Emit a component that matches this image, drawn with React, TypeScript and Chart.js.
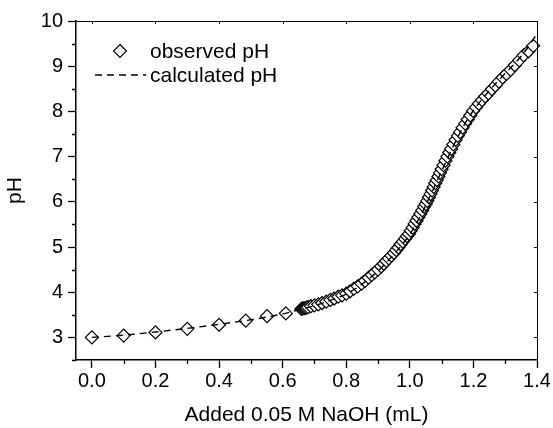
import React, { useEffect, useRef } from 'react';
import { Chart, registerables } from 'chart.js';

Chart.register(...registerables);

// ---- data ----
const obsX = [
  0.0, 0.1, 0.2, 0.3, 0.4, 0.484, 0.551, 0.61,
  0.659, 0.663, 0.667, 0.671, 0.675, 0.68, 0.689, 0.7, 0.712, 0.724, 0.737, 0.75,
  0.762, 0.775, 0.787, 0.8, 0.812, 0.824, 0.836, 0.848, 0.859, 0.87,
  0.88, 0.89, 0.9, 0.91, 0.918, 0.926, 0.934, 0.942, 0.95, 0.957,
  0.964, 0.971, 0.978, 0.985, 0.991, 0.997, 1.003, 1.009, 1.015, 1.021,
  1.027, 1.033, 1.039, 1.045, 1.05, 1.055, 1.06, 1.065, 1.07, 1.075,
  1.08, 1.085, 1.09, 1.095, 1.1, 1.106, 1.112, 1.118, 1.124, 1.13,
  1.137, 1.144, 1.151, 1.158, 1.166, 1.174, 1.182, 1.19, 1.199, 1.208,
  1.217, 1.227, 1.237, 1.247, 1.258, 1.269, 1.28, 1.292, 1.304, 1.317,
  1.33, 1.344, 1.358, 1.373, 1.388,
];
const obsPH = [
  3.0, 3.04, 3.11, 3.19, 3.28, 3.37, 3.47, 3.53,
  3.63, 3.64, 3.645, 3.65, 3.66, 3.67, 3.69, 3.71, 3.73, 3.76, 3.79, 3.83,
  3.86, 3.9, 3.93, 3.97, 4.02, 4.08, 4.13, 4.19, 4.25, 4.32,
  4.38, 4.44, 4.5, 4.57, 4.63, 4.69, 4.75, 4.81, 4.87, 4.93,
  4.99, 5.06, 5.12, 5.18, 5.24, 5.29, 5.36, 5.43, 5.51, 5.58,
  5.66, 5.73, 5.81, 5.89, 5.95, 6.02, 6.1, 6.17, 6.25, 6.33,
  6.41, 6.48, 6.56, 6.64, 6.72, 6.81, 6.91, 7.0, 7.09, 7.17,
  7.27, 7.37, 7.46, 7.54, 7.64, 7.73, 7.82, 7.91, 8.01, 8.09,
  8.17, 8.25, 8.33, 8.4, 8.49, 8.57, 8.66, 8.75, 8.83, 8.92,
  9.02, 9.13, 9.24, 9.33, 9.45,
];
const calcX = [
  0, 0.1, 0.2, 0.3, 0.4, 0.5, 0.6, 0.65, 0.7, 0.75, 0.8, 0.85, 0.9, 0.95,
  1.0, 1.025, 1.05, 1.075, 1.1, 1.125, 1.15, 1.175, 1.2, 1.25, 1.3, 1.35, 1.375, 1.4,
];
const calcPH = [
  3.0, 3.05, 3.12, 3.2, 3.29, 3.39, 3.52, 3.61, 3.7, 3.82, 3.96, 4.18, 4.47, 4.84,
  5.28, 5.58, 5.92, 6.3, 6.68, 7.06, 7.42, 7.75, 8.02, 8.46, 8.84, 9.22, 9.45, 9.72,
];
const xTicks = [0, 0.2, 0.4, 0.6, 0.8, 1.0, 1.2, 1.4];
const xMinorTicks = [0.1, 0.3, 0.5, 0.7, 0.9, 1.1, 1.3];
const yTicks = [3, 4, 5, 6, 7, 8, 9, 10];
const yMinorTicks = [2.5, 3.5, 4.5, 5.5, 6.5, 7.5, 8.5, 9.5];
const seriesLabels = ['observed pH', 'calculated pH'];
const xTitle = 'Added 0.05 M NaOH (mL)';
const yTitle = 'pH';

const FONT = "'Liberation Sans', Arial, Helvetica, sans-serif";

export default function App() {
  const ref = useRef<HTMLCanvasElement>(null);

  useEffect(() => {
    if (!ref.current) return;

    const decor = {
      id: 'decor',
      afterDraw(chart: any) {
        const { ctx, chartArea, scales } = chart;
        const { left, right, top, bottom } = chartArea;
        const xs = scales.x;
        const ys = scales.y;
        ctx.save();
        ctx.strokeStyle = '#000';
        ctx.lineWidth = 1.3;
        ctx.beginPath();
        xMinorTicks.forEach((v) => {
          const px = Math.round(xs.getPixelForValue(v)) + 0.5;
          ctx.moveTo(px, bottom);
          ctx.lineTo(px, bottom + 4);
        });
        yMinorTicks.forEach((v) => {
          const py = Math.round(ys.getPixelForValue(v)) + 0.5;
          ctx.moveTo(left - 4, py);
          ctx.lineTo(left, py);
        });
        ctx.stroke();
        // top and right frame
        ctx.lineWidth = 1;
        ctx.beginPath();
        ctx.moveTo(left, top + 0.5);
        ctx.lineTo(right, top + 0.5);
        ctx.moveTo(right + 0.5, top);
        ctx.lineTo(right + 0.5, bottom);
        // inward mirrored ticks
        xTicks.forEach((v) => {
          const px = Math.round(xs.getPixelForValue(v)) + 0.5;
          ctx.moveTo(px, top);
          ctx.lineTo(px, top + 3);
        });
        yTicks.forEach((v) => {
          const py = Math.round(ys.getPixelForValue(v)) + 0.5;
          ctx.moveTo(right, py);
          ctx.lineTo(right - 3, py);
        });
        ctx.stroke();

        // legend
        const lx = left + 44;
        const ly1 = top + 30;
        const ly2 = top + 54;
        ctx.fillStyle = '#fff';
        ctx.lineWidth = 1.2;
        const r = 6.5;
        ctx.beginPath();
        ctx.moveTo(lx, ly1 - r);
        ctx.lineTo(lx + r, ly1);
        ctx.lineTo(lx, ly1 + r);
        ctx.lineTo(lx - r, ly1);
        ctx.closePath();
        ctx.fill();
        ctx.stroke();
        ctx.setLineDash([7, 5]);
        ctx.lineWidth = 1.4;
        ctx.beginPath();
        ctx.moveTo(left + 19, ly2);
        ctx.lineTo(left + 70, ly2);
        ctx.stroke();
        ctx.setLineDash([]);
        ctx.fillStyle = '#000';
        ctx.font = `21px ${FONT}`;
        ctx.textAlign = 'left';
        ctx.textBaseline = 'middle';
        ctx.fillText(seriesLabels[0], left + 74, ly1 + 1);
        ctx.fillText(seriesLabels[1], left + 74, ly2 + 1);
        ctx.restore();
      },
    };

    const chart = new Chart(ref.current, {
      type: 'scatter',
      data: {
        datasets: [
          {
            label: seriesLabels[1],
            data: calcX.map((x, i) => ({ x, y: calcPH[i] })),
            showLine: true,
            borderColor: '#000',
            borderWidth: 1.4,
            borderDash: [7, 5],
            pointRadius: 0,
            fill: false,
            cubicInterpolationMode: 'monotone',
            order: 0,
          },
          {
            label: seriesLabels[0],
            data: obsX.map((x, i) => ({ x, y: obsPH[i] })),
            showLine: false,
            pointStyle: 'rectRot',
            pointRadius: 6.5,
            pointBorderWidth: 1.2,
            borderColor: '#000',
            backgroundColor: '#fff',
            clip: false,
            order: 1,
          },
        ],
      } as any,
      options: {
        responsive: false,
        animation: false,
        layout: { padding: { top: 21, right: 16, bottom: 0, left: 0 } },
        plugins: { legend: { display: false }, tooltip: { enabled: false } },
        scales: {
          x: {
            type: 'linear',
            min: -0.05,
            max: 1.4,
            afterBuildTicks: (s: any) => {
              s.ticks = xTicks.map((v) => ({ value: v }));
            },
            afterFit: (s: any) => {
              s.height = 68;
            },
            ticks: {
              callback: (v: any) => Number(v).toFixed(1),
              color: '#000',
              font: { family: FONT, size: 20 },
              padding: 1,
              maxRotation: 0,
              autoSkip: false,
            },
            grid: {
              display: true,
              drawOnChartArea: false,
              drawTicks: true,
              tickLength: 8,
              tickColor: '#000',
              tickWidth: 1.3,
            },
            border: { display: true, color: '#000', width: 1.5 },
            title: {
              display: true,
              text: xTitle,
              color: '#000',
              font: { family: FONT, size: 21 },
              padding: { top: 0, bottom: 0 },
            },
          },
          y: {
            type: 'linear',
            min: 2.5,
            max: 10,
            afterBuildTicks: (s: any) => {
              s.ticks = yTicks.map((v) => ({ value: v }));
            },
            afterFit: (s: any) => {
              s.width = 76;
            },
            ticks: {
              callback: (v: any) => String(v),
              color: '#000',
              font: { family: FONT, size: 20 },
              padding: 5,
              autoSkip: false,
            },
            grid: {
              display: true,
              drawOnChartArea: false,
              drawTicks: true,
              tickLength: 8,
              tickColor: '#000',
              tickWidth: 1.3,
            },
            border: { display: true, color: '#000', width: 1.5 },
            title: {
              display: true,
              text: yTitle,
              color: '#000',
              font: { family: FONT, size: 21 },
              padding: { top: 3, bottom: 0 },
            },
          },
        },
      } as any,
      plugins: [decor],
    });

    return () => chart.destroy();
  }, []);

  return (
    <div style={{ position: 'absolute', left: 0, top: 0, width: 553, height: 428 }}>
      <canvas ref={ref} width={553} height={428} style={{ display: 'block' }} />
    </div>
  );
}
